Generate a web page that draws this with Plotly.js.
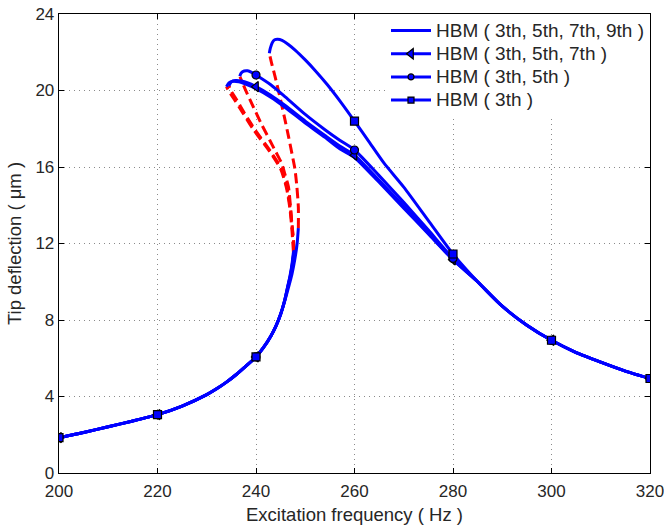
<!DOCTYPE html>
<html>
<head>
<meta charset="utf-8">
<script src="https://cdn.plot.ly/plotly-3.0.1.min.js"></script>
<style>html,body{margin:0;padding:0;background:#fff;}#chart{width:664px;height:525px;}</style>
</head>
<body>
<div id="chart"></div>
<script>
// ---------- data ----------
// shared lower (stable) branch
const freqLowerShared = [200, 205, 210, 215, 220, 225, 230, 232, 234, 236, 238, 240, 241.5, 243, 244, 245];
const ampLowerShared  = [1.85, 2.12, 2.42, 2.72, 3.05, 3.5, 4.1, 4.4, 4.75, 5.15, 5.6, 6.07, 6.55, 7.15, 7.65, 8.3];

// lower-branch ends near the jump-up point
const freqLowerEnd9 = [245.8, 246.4, 246.9, 247.3, 247.6];
const ampLowerEnd9  = [9.0, 9.7, 10.3, 10.9, 11.55];
const freqLowerEnd7 = [245.8, 246.4, 246.95, 247.35, 247.7];
const ampLowerEnd7  = [9.0, 9.7, 10.3, 10.9, 11.6];
const freqLowerEnd5 = [245.8, 246.45, 247.0, 247.4, 247.75];
const ampLowerEnd5  = [9.0, 9.7, 10.3, 10.9, 11.65];
const freqLowerEnd3 = [245.85, 246.6, 247.3, 247.9, 248.35, 248.6];
const ampLowerEnd3  = [9.0, 9.7, 10.4, 11.2, 12.0, 12.8];

// unstable (dashed) branches
const freqUnstable9 = [247.6, 247.3, 246.9, 246.2, 245.0, 242.8, 239.5, 237.4, 235.7, 234.5, 234.0];
const ampUnstable9  = [11.55, 12.7, 13.8, 14.9, 15.9, 16.8, 17.95, 18.8, 19.5, 19.95, 20.2];
const freqUnstable7 = [247.7, 247.4, 247.0, 246.3, 245.2, 243.0, 239.8, 237.7, 236.1, 235.0, 234.5];
const ampUnstable7  = [11.6, 12.7, 13.8, 14.9, 15.9, 16.8, 17.95, 18.8, 19.5, 19.95, 20.25];
const freqUnstable5 = [247.75, 247.5, 247.2, 246.6, 245.9, 245.2, 244.0, 242.8, 241.0, 239.45, 238.0, 236.75];
const ampUnstable5  = [11.65, 12.5, 13.3, 14.95, 15.6, 16.2, 16.8, 17.4, 18.3, 19.15, 19.95, 20.72];
const freqUnstable3 = [248.6, 248.6, 248.3, 247.9, 247.3, 246.6, 245.9, 245.0, 243.9, 243.1, 242.7];
const ampUnstable3  = [12.8, 13.9, 14.97, 15.9, 16.7, 17.6, 18.45, 19.5, 20.7, 21.5, 21.95];

// upper (stable) branches
const freqUpper9 = [234.0, 234.5, 235.3, 236.5, 238, 240, 243, 246, 250, 254, 257, 260, 265, 270, 275, 280];
const ampUpper9  = [20.2, 20.4, 20.48, 20.45, 20.32, 20.1, 19.65, 19.1, 18.3, 17.55, 16.95, 16.5, 15.2, 13.85, 12.5, 11.15];
const freqUpper7 = [234.5, 235.0, 235.8, 237, 238.5, 240, 243, 246, 250, 254, 257, 260, 265, 270, 275, 280];
const ampUpper7  = [20.25, 20.45, 20.52, 20.5, 20.38, 20.2, 19.75, 19.2, 18.4, 17.65, 17.1, 16.62, 15.3, 13.95, 12.55, 11.15];
const freqUpper5 = [236.7, 237.0, 237.6, 238.3, 239.1, 240, 243, 246, 250, 254, 257, 260, 265, 270, 275, 280];
const ampUpper5  = [20.75, 20.92, 21.02, 21.03, 20.95, 20.81, 20.3, 19.65, 18.75, 17.95, 17.4, 16.89, 15.55, 14.15, 12.7, 11.22];
const freqUpper3 = [242.7, 242.9, 243.3, 243.8, 244.4, 245.3, 246.5, 248, 250, 252, 254.5, 257.4, 260, 263, 266, 270, 275, 280];
const ampUpper3  = [21.95, 22.2, 22.5, 22.65, 22.68, 22.62, 22.42, 22.1, 21.6, 21.05, 20.3, 19.33, 18.4, 17.3, 16.2, 14.95, 13.2, 11.45];

// shared high-frequency tail
const freqTail = [285, 290, 295, 300, 305, 310, 315, 320];
const ampTail  = [10.0, 8.72, 7.73, 6.94, 6.3, 5.8, 5.33, 4.94];

// marker points
const markFreq3 = [200, 220, 240, 260, 280, 300, 320];
const markAmp3  = [1.85, 3.05, 6.07, 18.4, 11.45, 6.94, 4.94];
const markFreq5 = [200, 220, 240, 240, 260, 280, 300, 320];
const markAmp5  = [1.85, 3.05, 6.07, 20.81, 16.89, 11.22, 6.94, 4.94];
const markFreq7 = [200, 220, 240, 240, 260, 280, 300, 320];
const markAmp7  = [1.85, 3.05, 6.07, 20.2, 16.62, 11.15, 6.94, 4.94];

const seriesNames = ['HBM ( 3th, 5th, 7th, 9th )', 'HBM ( 3th, 5th, 7th )', 'HBM ( 3th, 5th )', 'HBM ( 3th )'];
const xTicks = [200, 220, 240, 260, 280, 300, 320];
const yTicks = [0, 4, 8, 12, 16, 20, 24];

// ---------- build traces ----------
const BLUE = '#0000ff', RED = '#ff0000';
const LW = 3;
const series = [
  {name: seriesNames[0], lf: freqLowerEnd9, la: ampLowerEnd9, uf: freqUnstable9, ua: ampUnstable9, sf: freqUpper9, sa: ampUpper9, mf: null, ma: null, sym: null},
  {name: seriesNames[1], lf: freqLowerEnd7, la: ampLowerEnd7, uf: freqUnstable7, ua: ampUnstable7, sf: freqUpper7, sa: ampUpper7, mf: markFreq7, ma: markAmp7, sym: 'triangle-left'},
  {name: seriesNames[2], lf: freqLowerEnd5, la: ampLowerEnd5, uf: freqUnstable5, ua: ampUnstable5, sf: freqUpper5, sa: ampUpper5, mf: markFreq5, ma: markAmp5, sym: 'circle'},
  {name: seriesNames[3], lf: freqLowerEnd3, la: ampLowerEnd3, uf: freqUnstable3, ua: ampUnstable3, sf: freqUpper3, sa: ampUpper3, mf: markFreq3, ma: markAmp3, sym: 'square'}
];

const lineTraces = [], dashTraces = [], markTraces = [], legendTraces = [];
series.forEach((s) => {
  lineTraces.push({
    x: freqLowerShared.concat(s.lf, [null], s.sf, freqTail),
    y: ampLowerShared.concat(s.la, [null], s.sa, ampTail),
    mode: 'lines', line: {color: BLUE, width: LW, shape: 'spline', smoothing: 0.6}, showlegend: false, connectgaps: false
  });
  dashTraces.push({
    x: s.uf, y: s.ua, mode: 'lines',
    line: {color: RED, width: LW, dash: '10px,5px', shape: 'spline', smoothing: 0.6}, showlegend: false
  });
  if (s.mf) {
    markTraces.push({
      x: s.mf, y: s.ma, mode: 'markers', showlegend: false,
      marker: {symbol: s.sym, size: s.sym === 'triangle-left' ? 9 : 8, color: BLUE, line: {color: '#000', width: 1.2}}
    });
  }
  const lt = {
    x: [null], y: [null], name: '<span style="font-size:19px">' + s.name + '</span>',
    mode: s.sym ? 'lines+markers' : 'lines', line: {color: BLUE, width: LW}
  };
  if (s.sym) lt.marker = {symbol: s.sym, size: s.sym === 'triangle-left' ? 9 : 6, color: BLUE, line: {color: '#000', width: 1.2}};
  legendTraces.push(lt);
});

const data = [].concat(dashTraces, lineTraces, markTraces, legendTraces);

const FONT = 'Liberation Sans, Arial, Helvetica, sans-serif';
const TXT = '#262626';
const axisCommon = {
  showline: true, linecolor: '#000', linewidth: 1.3, mirror: 'ticks',
  ticks: 'inside', ticklen: 5, tickcolor: '#000', tickwidth: 1,
  showgrid: true, gridcolor: '#8a8a8a', gridwidth: 1, griddash: '1px,4px',
  zeroline: false, tickfont: {family: FONT, size: 17, color: TXT}, tickmode: 'array',
  ticklabeloverflow: 'allow'
};

const layout = {
  width: 664, height: 525,
  margin: {l: 59, r: 14, t: 14, b: 52, pad: 0},
  paper_bgcolor: '#fff', plot_bgcolor: '#fff',
  font: {family: FONT, size: 17, color: TXT},
  xaxis: Object.assign({}, axisCommon, {
    range: [200, 320.0001], tickvals: xTicks, ticktext: xTicks.map(String), ticklabelstandoff: 2,
    title: {text: 'Excitation frequency ( Hz )', font: {family: FONT, size: 18.5, color: TXT}, standoff: 8}
  }),
  yaxis: Object.assign({}, axisCommon, {
    range: [0, 24], tickvals: yTicks, ticktext: yTicks.map(String),
    title: {text: 'Tip deflection ( \u03bcm )', font: {family: FONT, size: 18.5, color: TXT}, standoff: 9}
  }),
  showlegend: true,
  legend: {
    x: 1, y: 1, xanchor: 'right', yanchor: 'top', xref: 'paper', yref: 'paper',
    bgcolor: '#fff', borderwidth: 0, font: {family: FONT, size: 15.5, color: TXT},
    traceorder: 'normal', tracegroupgap: 0, itemwidth: 40
  }
};

Plotly.newPlot('chart', data, layout, {displayModeBar: false, staticPlot: true});
</script>
</body>
</html>
